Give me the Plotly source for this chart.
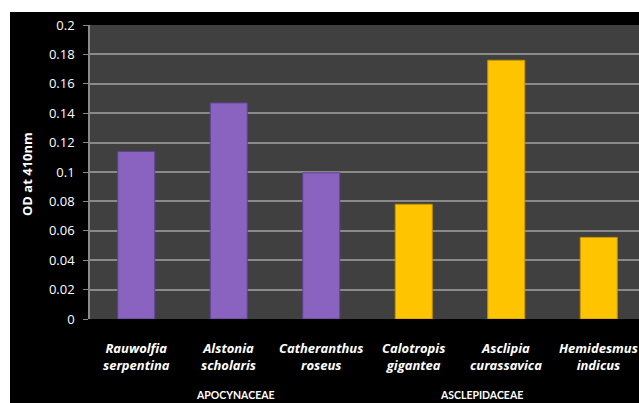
import plotly.graph_objects as go

species = ["Rauwolfia<br>serpentina", "Alstonia<br>scholaris", "Catheranthus<br>roseus",
           "Calotropis<br>gigantea", "Asclipia<br>curassavica", "Hemidesmus<br>indicus"]
od_values = [0.114, 0.147, 0.0995, 0.078, 0.176, 0.0555]
bar_colors = ["#8a62bf", "#8a62bf", "#8a62bf", "#ffc400", "#ffc400", "#ffc400"]
edge_colors = ["#5f4290", "#5f4290", "#5f4290", "#c79400", "#c79400", "#c79400"]
families = ["APOCYNACEAE", "ASCLEPIDACEAE"]
family_x_px = [235, 481]
y_ticks = [0, 0.02, 0.04, 0.06, 0.08, 0.1, 0.12, 0.14, 0.16, 0.18, 0.2]
y_ticklabels = ["0", "0.02", "0.04", "0.06", "0.08", "0.1", "0.12", "0.14", "0.16", "0.18", "0.2"]

W, H = 639, 403
L, T, B = 90, 25, 319
PW, PH = W - L, B - T
FONT = "'Open Sans', Lato, sans-serif"
FONT2 = "Lato, 'Open Sans', sans-serif"

def px_x(x):
    return (x - L) / PW

def px_y(y):
    return (B - y) / PH

xs = list(range(len(species)))

fig = go.Figure()
fig.add_trace(go.Bar(
    x=xs, y=od_values, width=0.4,
    marker=dict(color=bar_colors, line=dict(color=edge_colors, width=1)),
    showlegend=False,
))

annotations = []
for i, s in enumerate(species):
    annotations.append(dict(
        x=i, xref="x", y=px_y(356), yref="paper", text="<b><i>" + s + "</i></b>",
        showarrow=False, xanchor="center", yanchor="middle",
        font=dict(family=FONT, size=13, color="#ffffff"), align="center"))
for f, fx in zip(families, family_x_px):
    annotations.append(dict(
        x=px_x(fx), xref="paper", y=px_y(395), yref="paper", text="<b>" + f + "</b>",
        showarrow=False, xanchor="center", yanchor="middle",
        font=dict(family=FONT2, size=10.5, color="#ffffff")))
annotations.append(dict(
    x=px_x(27), xref="paper", y=px_y(174), yref="paper", text="<b>OD at 410nm</b>",
    textangle=-90, showarrow=False, xanchor="center", yanchor="middle",
    font=dict(family=FONT, size=13, color="#ffffff")))

shapes = [
    dict(type="rect", xref="paper", yref="paper", x0=px_x(-5), x1=px_x(W + 5),
         y0=px_y(12), y1=px_y(-5), fillcolor="#ffffff", line=dict(width=0), layer="above"),
    dict(type="rect", xref="paper", yref="paper", x0=px_x(-5), x1=px_x(10),
         y0=px_y(H + 5), y1=px_y(-5), fillcolor="#ffffff", line=dict(width=0), layer="above"),
]

fig.update_layout(
    width=W, height=H,
    margin=dict(l=L, r=0, t=T, b=H - B),
    paper_bgcolor="#000000", plot_bgcolor="#404040",
    bargap=0.6,
    annotations=annotations, shapes=shapes,
    xaxis=dict(range=[-0.5, -0.5 + PW / 92.5], showticklabels=False, showgrid=False,
               zeroline=False, showline=False, ticks=""),
    yaxis=dict(range=[0, 0.2], tickvals=y_ticks, ticktext=y_ticklabels,
               showgrid=True, gridcolor="#8a8a8a", gridwidth=1.5,
               zeroline=False, showline=True, linecolor="#8a8a8a", linewidth=1.5,
               ticks="outside", ticklen=5, tickcolor="#8a8a8a", ticklabelstandoff=6,
               tickfont=dict(family=FONT, size=13, color="#ffffff")),
)

fig.write_html("out.html")
